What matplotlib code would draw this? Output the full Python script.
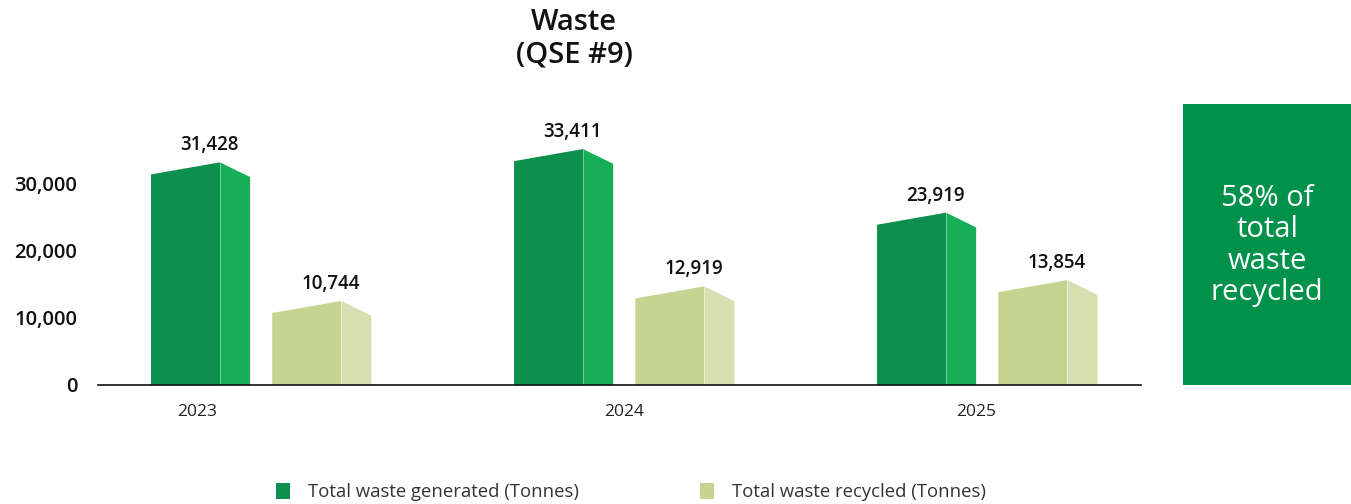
import matplotlib
matplotlib.use("Agg")
import matplotlib.pyplot as plt
from matplotlib.patches import Polygon, Rectangle, Patch

# ---------------- data ----------------
years = ["2023", "2024", "2025"]
generated = [31428, 33411, 23919]
recycled = [10744, 12919, 13854]
series_names = ["Total waste generated (Tonnes)", "Total waste recycled (Tonnes)"]
yticks = [0, 10000, 20000, 30000]
title_lines = ["Waste", "(QSE #9)"]
callout_text = "58% of\ntotal\nwaste\nrecycled"

# ---------------- style ----------------
FONT = ["Open Sans", "DejaVu Sans"]
GEN_FRONT, GEN_SIDE = "#0D8F4E", "#16AF57"
REC_FRONT, REC_SIDE = "#C5D491", "#D7DFB1"
BOX = "#00914A"
FRONT_W, SIDE_W, GAP = 0.19, 0.083, 0.061     # in group-spacing units
PEAK, DROP = 1800, 400                         # pseudo-3D top slant (data units)
LABEL_DY = 2550
YEAR_SHIFT = [-0.176, 0.0, -0.03]

W, H = 1351, 504
fig = plt.figure(figsize=(W / 100, H / 100), dpi=100)
ax = fig.add_axes([98 / W, 119 / H, (1141 - 98) / W, 0.585])
ax.set_xlim(-0.146, 2.727)
ax.set_ylim(0, 44000)


def bar3d(ax, left, v, front, side):
    mid = left + FRONT_W
    right = mid + SIDE_W
    ax.add_patch(Polygon([(left, 0), (left, v), (mid, v + PEAK), (mid, 0)],
                         closed=True, facecolor=front, edgecolor="none"))
    ax.add_patch(Polygon([(mid, 0), (mid, v + PEAK), (right, v - DROP), (right, 0)],
                         closed=True, facecolor=side, edgecolor="none"))
    ax.plot([mid, mid], [0, v + PEAK], color="white", lw=0.6, alpha=0.45)
    ax.text(mid - 0.028, v + PEAK + LABEL_DY, f"{v:,}", ha="center", va="center",
            fontsize=13.5, fontweight="semibold", family=FONT, color="#111111")


for i in range(len(years)):
    bar3d(ax, i, generated[i], GEN_FRONT, GEN_SIDE)
    bar3d(ax, i + FRONT_W + SIDE_W + GAP, recycled[i], REC_FRONT, REC_SIDE)

group_center = (2 * (FRONT_W + SIDE_W) + GAP) / 2
ax.set_xticks([i + group_center + YEAR_SHIFT[i] for i in range(len(years))])
ax.set_xticklabels(years, fontsize=12.5, family=FONT, color="#222222")
ax.set_yticks(yticks)
ax.set_yticklabels([f"{t:,}" for t in yticks], fontsize=14.5, family=FONT,
                   fontweight="semibold", color="#111111")
ax.tick_params(axis="both", length=0)
ax.tick_params(axis="y", pad=15)
ax.tick_params(axis="x", pad=14)
for s in ["top", "right", "left"]:
    ax.spines[s].set_visible(False)
ax.spines["bottom"].set_linewidth(1.2)
ax.spines["bottom"].set_color("#111111")

# title
fig.text(574 / W, 1 - 22 / H, title_lines[0], ha="center", va="center",
         fontsize=21, fontweight="semibold", family=FONT, color="#111111")
fig.text(574 / W, 1 - 55 / H, title_lines[1], ha="center", va="center",
         fontsize=21, fontweight="semibold", family=FONT, color="#111111")

# callout box
fig.patches.append(Rectangle((1183 / W, 119 / H), (W - 1183) / W, (385 - 104) / H,
                             transform=fig.transFigure, facecolor=BOX, edgecolor="none"))
fig.text(1267 / W, 1 - 245.5 / H, callout_text, ha="center", va="center",
         fontsize=21, family=FONT, color="white", linespacing=1.1)

# legend
handles = [Patch(facecolor=GEN_FRONT), Patch(facecolor=REC_FRONT)]
leg = fig.legend(handles, series_names, loc="center", bbox_to_anchor=(631 / W, 1 - 492 / H),
                 ncol=2, frameon=False, handlelength=0.75, handleheight=1.0,
                 handletextpad=0.95, columnspacing=6.6,
                 prop={"family": FONT, "size": 13.3})
for t in leg.get_texts():
    t.set_color("#333333")

fig.savefig("out.png", dpi=100)
